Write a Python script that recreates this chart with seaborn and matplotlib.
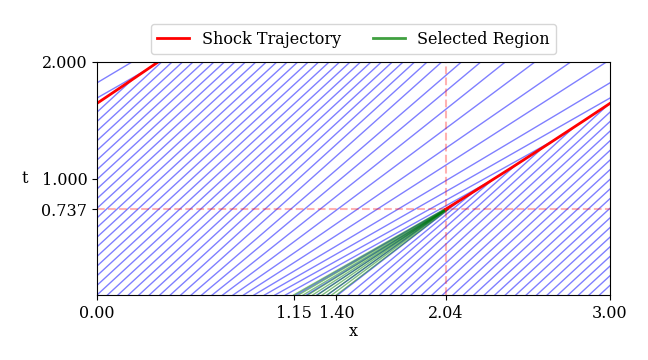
import numpy as np
import matplotlib
matplotlib.use('Agg')
import matplotlib.pyplot as plt
from matplotlib.lines import Line2D
import seaborn as sns
import pandas as pd

# ---------------- data ----------------
L = 3.0                                   # periodic domain length
t_break = 0.737                           # shock formation time
x_break = 2.04                            # shock formation position
region = [1.15, 1.40]                     # selected region of initial positions

# characteristic feet (evenly spaced) and their speeds
char_x0 = np.linspace(0, 3, 50)[:-1]
char_speed = [0.74, 0.74, 0.74, 0.74, 0.741, 0.742, 0.745, 0.751, 0.763, 0.79,
              0.816, 0.857, 0.913, 0.987, 1.061, 1.143, 1.195, 1.228, 1.225, 1.183,
              1.112, 1.03, 0.95, 0.881, 0.828, 0.791, 0.768, 0.754, 0.746, 0.743,
              0.741, 0.74, 0.74, 0.74, 0.74, 0.74, 0.74, 0.74, 0.74, 0.74,
              0.74, 0.74, 0.74, 0.74, 0.74, 0.74, 0.74, 0.74, 0.74]

# characteristics of the selected region
green_x0 = np.linspace(region[0], region[1], 10)
green_speed = [1.196, 1.168, 1.136, 1.101, 1.064, 1.026, 0.989, 0.953, 0.920, 0.890]

# shock trajectory (unwrapped x)
shock_t = [0.737, 0.9, 1.1, 1.3, 1.5, 1.645, 1.8, 2.0]
shock_x = [2.04, 2.217, 2.432, 2.643, 2.851, 3.0, 3.157, 3.357]

xtick_vals = [0.0, 1.15, 1.40, 2.04, 3.00]
xtick_labels = ['0.00', '1.15', '1.40', '2.04', '3.00']
ytick_vals = [0.737, 1.0, 2.0]
ytick_labels = ['0.737', '1.000', '2.000']

T_MAX = 2.0

# ---------------- build segments ----------------
tt = np.linspace(t_break, T_MAX, 4001)
xs_fine = np.interp(tt, shock_t, shock_x)
xi_break = 1.275

rows = []
uid = 0
def add_seg(x1, t1, x2, t2):
    global uid
    rows.append(dict(x=x1, t=t1, uid=uid))
    rows.append(dict(x=x2, t=t2, uid=uid))
    uid += 1

for x0, u in zip(char_x0, char_speed):
    d = x0 + u * tt - xs_fine
    idx = np.where(d >= 0)[0] if x0 < xi_break else np.where(d <= 0)[0]
    te = tt[idx[0]] if len(idx) else T_MAX
    xe = x0 + u * te
    if xe > L:
        tc = (L - x0) / u
        add_seg(x0, 0.0, L, tc)
        add_seg(0.0, tc, xe - L, te)
    else:
        add_seg(x0, 0.0, xe, te)
blue_df = pd.DataFrame(rows)

grows = []
for i, (x0, u) in enumerate(zip(green_x0, green_speed)):
    grows.append(dict(x=x0, t=0.0, uid=i))
    grows.append(dict(x=x0 + u * t_break, t=t_break, uid=i))
green_df = pd.DataFrame(grows)

sx = np.array(shock_x); st = np.array(shock_t)
m = sx <= L
shock_df = pd.DataFrame({
    'x': list(sx[m]) + [0.0] + list(sx[~m] - L),
    't': list(st[m]) + [st[m][-1]] + list(st[~m]),
    'part': [0] * m.sum() + [1] * (1 + (~m).sum())})

# ---------------- plot ----------------
FS = 11.5
plt.rcParams['font.family'] = ['DejaVu Serif']
plt.rcParams['font.size'] = FS

fig = plt.figure(figsize=(6.48, 3.6), dpi=100)
ax = fig.add_axes([97 / 648, 65 / 360, 513 / 648, 233 / 360])

sns.lineplot(data=blue_df, x='x', y='t', units='uid', estimator=None, sort=False,
             color='blue', alpha=0.5, lw=1, ax=ax, legend=False)
sns.lineplot(data=green_df, x='x', y='t', units='uid', estimator=None, sort=False,
             color='green', alpha=0.5, lw=1, ax=ax, legend=False)
sns.lineplot(data=shock_df, x='x', y='t', units='part', estimator=None, sort=False,
             color='red', lw=2, ax=ax, legend=False)

ax.axhline(t_break, color='red', ls='--', alpha=0.3, lw=1.5)
ax.axvline(x_break, color='red', ls='--', alpha=0.3, lw=1.5)

ax.set_xlim(0, L)
ax.set_ylim(0, T_MAX)
ax.set_xticks(xtick_vals)
ax.set_xticklabels(xtick_labels)
ax.set_yticks(ytick_vals)
ax.set_yticklabels(ytick_labels)
ax.tick_params(labelsize=FS)
ax.set_xlabel('x', fontsize=FS, labelpad=1)
ax.set_ylabel('t', fontsize=FS, rotation=0, labelpad=12, va='center')

handles = [Line2D([], [], color='red', lw=2),
           Line2D([], [], color='green', lw=2, alpha=0.75)]
ax.legend(handles, ['Shock Trajectory', 'Selected Region'], loc='lower center',
          bbox_to_anchor=(0.5, 1.0), ncol=2, fontsize=FS, frameon=True)

fig.savefig('out.png', dpi=100)
